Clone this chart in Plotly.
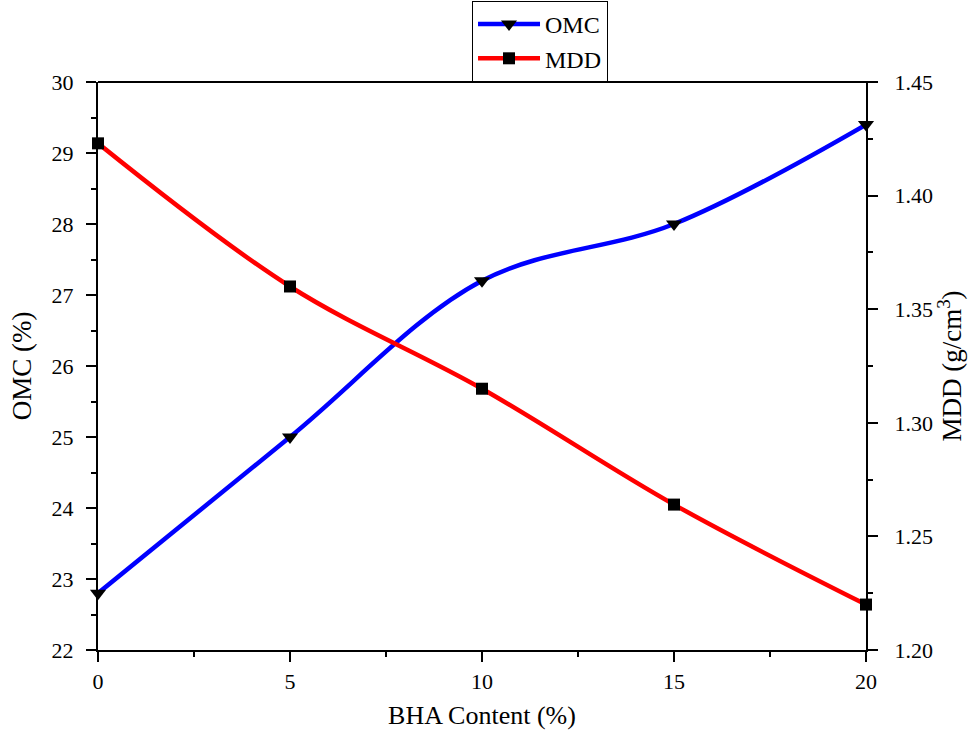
import plotly.graph_objects as go

# BHA content (%) and compaction results
bha_content = [0, 5, 10, 15, 20]
omc = [22.8, 25.0, 27.2, 28.0, 29.4]
mdd = [1.423, 1.360, 1.315, 1.264, 1.220]

font_family = "Liberation Serif, Times New Roman, serif"

fig = go.Figure()
fig.add_trace(go.Scatter(
    x=bha_content, y=omc, name="OMC", mode="lines+markers",
    line=dict(color="#0000FF", width=4.5, shape="spline", smoothing=1.0),
    marker=dict(symbol="triangle-down", size=14, color="black"),
    cliponaxis=False,
))
fig.add_trace(go.Scatter(
    x=bha_content, y=mdd, name="MDD", mode="lines+markers", yaxis="y2",
    line=dict(color="#FF0000", width=4.5, shape="spline", smoothing=1.0),
    marker=dict(symbol="square", size=12, color="black"),
    cliponaxis=False,
))

tick_font = dict(family=font_family, size=22, color="black")
minor_ticks = dict(ticks="outside", ticklen=5, tickwidth=2, tickcolor="black")

axis_common = dict(
    showline=True, linecolor="black", linewidth=2,
    ticks="outside", ticklen=10, tickwidth=2, tickcolor="black",
    showgrid=False, zeroline=False,
    tickfont=tick_font,
)

fig.update_layout(
    width=970, height=732,
    margin=dict(l=98, r=104, t=82, b=82, autoexpand=False),
    paper_bgcolor="white", plot_bgcolor="white",
    font=dict(family=font_family, color="black"),
    xaxis=dict(
        range=[0, 20], dtick=5, tick0=0,
        minor=dict(dtick=2.5, **minor_ticks),
        ticklabelstandoff=1,
        title=dict(text="BHA Content (%)", font=dict(family=font_family, size=26), standoff=12),
        **axis_common,
    ),
    yaxis=dict(
        range=[22, 30], dtick=1, tick0=22,
        minor=dict(dtick=0.5, **minor_ticks),
        ticklabelstandoff=8,
        title=dict(text="OMC (%)", font=dict(family=font_family, size=27), standoff=12),
        **axis_common,
    ),
    yaxis2=dict(
        range=[1.20, 1.45], dtick=0.05, tick0=1.20, tickformat=".2f",
        overlaying="y", side="right",
        minor=dict(dtick=0.025, **minor_ticks),
        ticklabelstandoff=12,
        title=dict(text="MDD (g/cm<sup>3</sup>)", font=dict(family=font_family, size=27), standoff=10),
        **axis_common,
    ),
    legend=dict(
        x=0.487, y=1.0, xanchor="left", yanchor="bottom",
        bgcolor="white", bordercolor="black", borderwidth=1,
        font=dict(family=font_family, size=24, color="black"),
        itemwidth=62, tracegroupgap=0,
    ),
    showlegend=True,
)

# top frame line across the plot area
fig.add_shape(type="line", xref="paper", yref="paper", x0=0, x1=1.015, y0=1, y1=1,
              line=dict(color="black", width=2))

fig.write_html("out.html")
